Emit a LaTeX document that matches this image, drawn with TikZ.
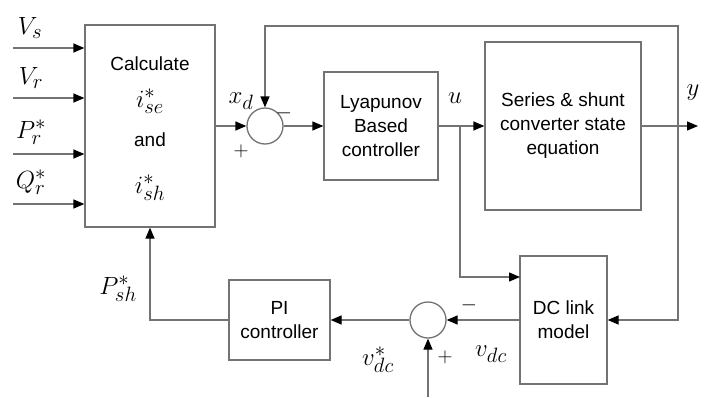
\documentclass[tikz,border=0pt]{standalone}
\usepackage{fontspec}
\setsansfont{Liberation Sans}
\usetikzlibrary{arrows.meta}
\begin{document}
\begin{tikzpicture}[x=1pt,y=-1pt,
  blk/.style={draw=black!55, line width=1.3pt, fill=white, rectangle, font=\sffamily\fontsize{19}{24}\selectfont, align=center, inner sep=0pt},
  btxt/.style={font=\sffamily\fontsize{19}{24}\selectfont, inner sep=0pt},
  sumj/.style={draw=black!55, line width=1.3pt, circle, minimum size=36pt, inner sep=0pt},
  ln/.style={draw=black!55, line width=1.3pt},
  arr/.style={ln, -{Triangle[length=11pt,width=9pt,black]}},
  lbl/.style={font=\fontsize{28}{32}\selectfont, inner sep=0pt},
  sgn/.style={font=\fontsize{22}{26}\selectfont, inner sep=0pt}]
\useasboundingbox (0,0) rectangle (705,397);
\fill[white] (0,0) rectangle (705,397);
% blocks
\node[blk, minimum width=130pt, minimum height=202pt] (calc) at (150,126) {};
\node[btxt] (t1) at (150,64) {Calculate};
\node[lbl] (t2) at (150,101) {$i^*_{se}$};
\node[btxt] (t3) at (150,140) {and};
\node[lbl] (t4) at (150,188) {$i^*_{sh}$};
\node[blk, minimum width=114pt, minimum height=108pt] (lyap) at (381,126) {Lyapunov\\Based\\controller};
\node[blk, minimum width=156pt, minimum height=168pt] (series) at (563,126) {Series \& shunt\\converter state\\equation};
\node[blk, minimum width=87pt, minimum height=128pt] (dc) at (563.5,320) {DC link\\model};
\node[blk, minimum width=101pt, minimum height=80pt] (pi) at (279.5,320) {PI\\controller};
\node[sumj] (sum1) at (265,126) {};
\node[sumj] (sum2) at (428,320) {};
% inputs
\coordinate (in1) at (13,48);
\coordinate (in2) at (13,98);
\coordinate (in3) at (13,154);
\coordinate (in4) at (13,204);
\draw[arr] (in1) -- (calc.west |- in1);
\draw[arr] (in2) -- (calc.west |- in2);
\draw[arr] (in3) -- (calc.west |- in3);
\draw[arr] (in4) -- (calc.west |- in4);
\node[lbl] (lvs) at (30,28) {$V_s$};
\node[lbl] (lvr) at (31,78) {$V_r$};
\node[lbl] (lpr) at (31,132) {$P^*_r$};
\node[lbl] (lqr) at (31,182) {$Q^*_r$};
% main path
\draw[arr] (calc.east) -- (sum1.west);
\draw[arr] (sum1.east) -- (lyap.west);
\draw[arr] (lyap.east) -- (series.west);
\coordinate (ubr) at (460,126);
\coordinate (dcin) at (520,277);
\draw[arr] (ubr) |- (dcin);
\coordinate (yout) at (698,126);
\draw[arr] (series.east) -- (yout);
\coordinate (fbx) at (678,126);
\coordinate (fbtop) at (678,26);
\draw[arr] (fbx) -- (fbtop) -| (sum1.north);
\draw[arr] (fbx) |- (dc.east);
\draw[arr] (dc.west) -- (sum2.east);
\draw[arr] (sum2.west) -- (pi.east);
\draw[arr] (pi.west) -| (calc.south);
\coordinate (vin) at (428,397);
\draw[arr] (vin) -- (sum2.south);
% labels
\node[lbl] (lxd) at (241,101) {$x_d$};
\node[sgn] (m1) at (284,113) {$-$};
\node[sgn] (p1) at (241,151) {$+$};
\node[lbl] (lu) at (455,98) {$u$};
\node[lbl] (ly) at (693,93) {$y$};
\node[lbl] (lpsh) at (118,289) {$P^*_{sh}$};
\node[lbl] (lvdcs) at (378,360) {$v^*_{dc}$};
\node[sgn] (p2) at (445,357) {$+$};
\node[sgn] (m2) at (469,305) {$-$};
\node[lbl] (lvdc) at (491,354) {$v_{dc}$};
\end{tikzpicture}
\end{document}
